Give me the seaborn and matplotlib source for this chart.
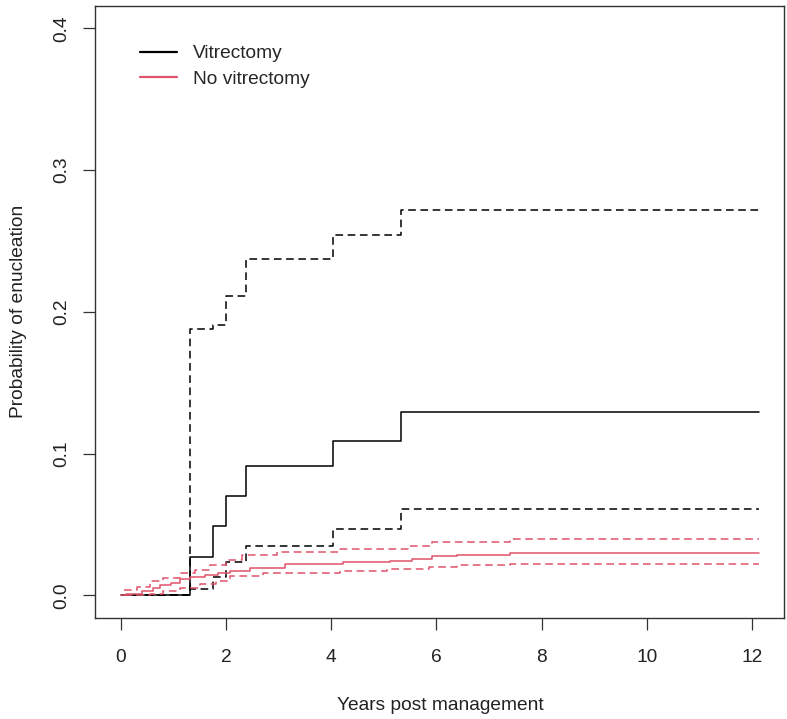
import numpy as np
import pandas as pd
import matplotlib
matplotlib.use("Agg")
import matplotlib.pyplot as plt
from matplotlib.lines import Line2D
import seaborn as sns

sns.set_style("white")
plt.rcParams['font.family'] = ['Liberation Sans', 'DejaVu Sans']

# Vitrectomy (KM cumulative incidence + CI)
vit_t = [0.0, 1.317, 1.749, 1.989, 2.376, 4.04, 5.32, 12.13]
vit_est = [0.0, 0.027, 0.049, 0.070, 0.091, 0.109, 0.129, 0.129]
vit_up_t = [0.0, 1.317, 1.749, 1.989, 2.376, 4.04, 5.32, 12.13]
vit_up = [0.0, 0.188, 0.191, 0.211, 0.237, 0.254, 0.272, 0.272]
vit_lo_t = [0.0, 1.317, 1.749, 1.989, 2.376, 4.04, 5.32, 12.13]
vit_lo = [0.0, 0.0042, 0.0127, 0.0235, 0.035, 0.047, 0.061, 0.061]

# No vitrectomy
nov_t = [0.0, 0.1, 0.4, 0.6, 0.75, 0.95, 1.13, 1.32, 1.6, 1.85, 2.08, 2.46, 3.12,
         4.23, 5.12, 5.54, 5.92, 6.39, 7.40, 12.13]
nov_est = [0.0, 0.001, 0.003, 0.0055, 0.0073, 0.009, 0.0115, 0.0127, 0.014, 0.016,
           0.0174, 0.0195, 0.022, 0.0233, 0.0244, 0.0256, 0.0277, 0.0286, 0.0296, 0.0296]
nov_up_t = [0.05, 0.3, 0.56, 0.8, 1.13, 1.4, 1.7, 2.0, 2.3, 2.97, 4.17, 5.5, 5.92, 7.40, 12.13]
nov_up = [0.004, 0.006, 0.010, 0.012, 0.0155, 0.018, 0.0214, 0.025, 0.0284, 0.0303,
          0.0324, 0.0350, 0.0378, 0.0397, 0.0397]
nov_lo_t = [0.05, 0.56, 0.8, 1.13, 1.5, 1.8, 2.08, 2.71, 4.17, 5.06, 5.85, 6.39, 7.40, 12.13]
nov_lo = [0.0, 0.001, 0.003, 0.0054, 0.008, 0.010, 0.0136, 0.016, 0.0174, 0.0183,
          0.0202, 0.0214, 0.0221, 0.0221]

group_labels = ["Vitrectomy", "No vitrectomy"]
x_ticks = [0, 2, 4, 6, 8, 10, 12]
y_ticks = [0.0, 0.1, 0.2, 0.3, 0.4]

BLACK = "#000000"
RED = "#DF536B"
FS = 13.8

fig = plt.figure(figsize=(7.87, 7.19), dpi=100)
ax = fig.add_axes([0.1213, 0.1405, 0.8752, 0.8517])

def step(t, v, color, dashed):
    df = pd.DataFrame({"t": t, "v": v})
    kw = dict(drawstyle="steps-post", lw=1.1, color=color)
    if dashed:
        kw["dashes"] = (5, 3)
    sns.lineplot(data=df, x="t", y="v", ax=ax, estimator=None, sort=False, **kw)

step(vit_t, vit_est, BLACK, False)
step(vit_up_t, vit_up, BLACK, True)
step(vit_lo_t, vit_lo, BLACK, True)
step(nov_t, nov_est, RED, False)
step(nov_up_t, nov_up, RED, True)
step(nov_lo_t, nov_lo, RED, True)

ax.set_xlim(-0.485, 12.615)
ax.set_ylim(-0.016, 0.416)
ax.set_xticks(x_ticks)
ax.set_xticklabels([str(x) for x in x_ticks])
ax.set_yticks(y_ticks)
ax.set_yticklabels([f"{y:.1f}" for y in y_ticks], rotation=90, va="center")
ax.tick_params(axis="both", direction="out", length=8.5, width=0.9, color="#333333",
               labelsize=FS, labelcolor="#222222", bottom=True, left=True)
ax.tick_params(axis="x", pad=13.5)
ax.tick_params(axis="y", pad=9.5)
for s in ax.spines.values():
    s.set_color("#333333")
    s.set_linewidth(1.0)
ax.set_xlabel("Years post management", fontsize=FS, color="#222222", labelpad=23)
ax.set_ylabel("Probability of enucleation", fontsize=FS, color="#222222", labelpad=19)

handles = [Line2D([], [], color=BLACK, lw=1.6), Line2D([], [], color=RED, lw=1.6)]
ax.legend(handles, group_labels, loc="upper left", bbox_to_anchor=(0.0646, 0.936),
          frameon=False, fontsize=FS, handlelength=1.93, handletextpad=0.83,
          labelspacing=0.42, borderpad=0, borderaxespad=0)

fig.savefig("out.png", dpi=100)
